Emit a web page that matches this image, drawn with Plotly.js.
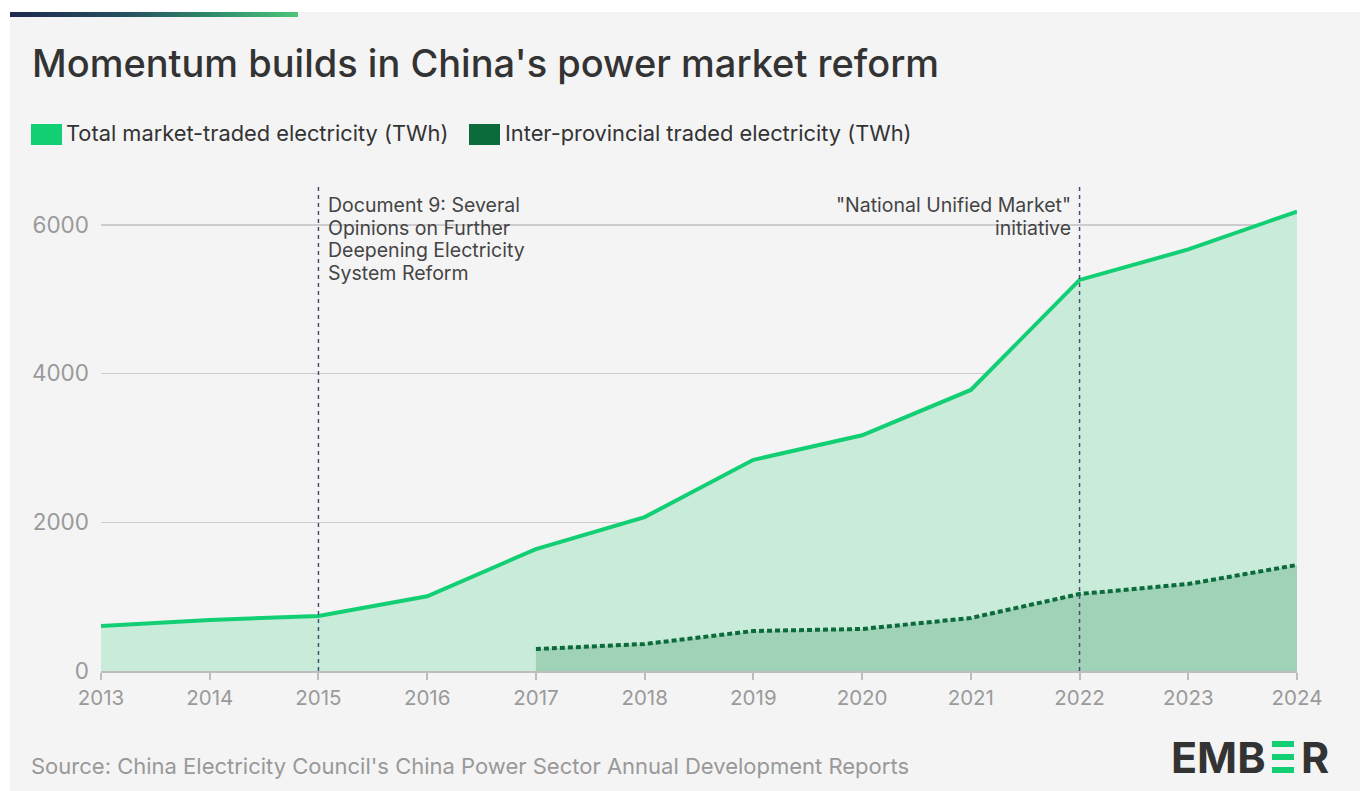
<!DOCTYPE html>
<html>
<head>
<meta charset="utf-8">
<script src="https://cdn.plot.ly/plotly-3.0.1.min.js"></script>
<style>
  html, body { margin:0; padding:0; background:#ffffff; width:1360px; height:791px; overflow:hidden; }
  #chart { position:absolute; left:10px; top:12px; width:1350px; height:779px; }
  #bar { position:absolute; left:10px; top:12px; width:288px; height:5px; z-index:5;
         background:linear-gradient(to right, #1d2a4f 0%, #26505f 40%, #2f8a6a 70%, #4cc47a 100%); }
</style>
</head>
<body>
<div id="chart"></div>
<div id="bar"></div>
<script>
// ---- Data ----
const years = [2013, 2014, 2015, 2016, 2017, 2018, 2019, 2020, 2021, 2022, 2023, 2024];
const totalTraded = [605, 686, 740, 1005, 1640, 2070, 2840, 3170, 3780, 5260, 5670, 6180];
const interYears = [2017, 2018, 2019, 2020, 2021, 2022, 2023, 2024];
const interProvincial = [296, 363, 538, 565, 713, 1036, 1170, 1426];
const seriesNames = ["Total market-traded electricity (TWh)", "Inter-provincial traded electricity (TWh)"];
const yTicks = [0, 2000, 4000, 6000];
const eventYears = [2015, 2022];
const eventLines = [
  ["Document 9: Several", "Opinions on Further", "Deepening Electricity", "System Reform"],
  ["\"National Unified Market\"", "initiative"]
];
const titleText = "Momentum builds in China's power market reform";
const sourceText = "Source: China Electricity Council's China Power Sector Annual Development Reports";

// ---- Layout helpers (page pixels -> paper coords) ----
const L = 101, R = 1297, T = 187, B = 671;
const px = x => (x - L) / (R - L);
const py = y => (B - y) / (B - T);

const FONT = "Inter, 'Noto Sans', sans-serif";
const TXT = "#333333";

const traces = [
  {
    x: years, y: totalTraded, name: seriesNames[0], type: "scatter", mode: "lines",
    fill: "tozeroy", fillcolor: "#c8ebda",
    line: { color: "#13cf74", width: 4 }, hoverinfo: "x+y"
  },
  {
    x: interYears, y: interProvincial, name: seriesNames[1], type: "scatter", mode: "lines",
    fill: "tozeroy", fillcolor: "#a0d2b8",
    line: { color: "#0b6b3b", width: 4, dash: "5px,3px" }, hoverinfo: "x+y"
  }
];

const shapes = [];
eventYears.forEach(yr => {
  shapes.push({ type: "line", xref: "x", yref: "paper", x0: yr, x1: yr, y0: 0, y1: 1,
    line: { color: "#4a5070", width: 1.5, dash: "4px,4px" }, layer: "above" });
});
// legend squares
shapes.push({ type: "rect", xref: "paper", yref: "paper", x0: px(31), x1: px(62), y0: py(145), y1: py(124),
  fillcolor: "#13cf74", line: { width: 0 } });
shapes.push({ type: "rect", xref: "paper", yref: "paper", x0: px(469), x1: px(500), y0: py(145), y1: py(124),
  fillcolor: "#0b6b3b", line: { width: 0 } });
// logo bars
[[741, 747], [754, 760], [767, 773]].forEach(b => {
  shapes.push({ type: "rect", xref: "paper", yref: "paper", x0: px(1272), x1: px(1294), y0: py(b[1]), y1: py(b[0]),
    fillcolor: "#13cf74", line: { width: 0 } });
});

const annotations = [
  { text: titleText, xref: "paper", yref: "paper", x: px(30), y: py(63), xanchor: "left", yanchor: "middle",
    showarrow: false, font: { family: FONT, size: 38, color: TXT, weight: 500 } },
  { text: seriesNames[0], xref: "paper", yref: "paper", x: px(64), y: py(133), xanchor: "left", yanchor: "middle",
    showarrow: false, font: { family: FONT, size: 21.8, color: TXT } },
  { text: seriesNames[1], xref: "paper", yref: "paper", x: px(503), y: py(133), xanchor: "left", yanchor: "middle",
    showarrow: false, font: { family: FONT, size: 21.8, color: TXT } },
  { text: sourceText, xref: "paper", yref: "paper", x: px(29), y: py(766), xanchor: "left", yanchor: "middle",
    showarrow: false, font: { family: FONT, size: 22, color: "#999999" } },
  { text: "<b>EMB</b>", xref: "paper", yref: "paper", x: px(1169), y: py(757), xanchor: "left", yanchor: "middle",
    showarrow: false, font: { family: FONT, size: 43, color: "#333333" } },
  { text: "<b>R</b>", xref: "paper", yref: "paper", x: px(1299), y: py(757), xanchor: "left", yanchor: "middle",
    showarrow: false, font: { family: FONT, size: 43, color: "#333333" } }
];
// event annotations, one line each
eventLines[0].forEach((t, i) => {
  annotations.push({ text: t, xref: "x", yref: "paper", x: eventYears[0], xshift: 8, y: py(205 + i * 22.7),
    xanchor: "left", yanchor: "middle", showarrow: false, font: { family: FONT, size: 19.5, color: "#444444" } });
});
eventLines[1].forEach((t, i) => {
  annotations.push({ text: t, xref: "x", yref: "paper", x: eventYears[1], xshift: -7, y: py(205 + i * 22.7),
    xanchor: "right", yanchor: "middle", showarrow: false, font: { family: FONT, size: 19.5, color: "#444444" } });
});

const layout = {
  width: 1350, height: 779,
  paper_bgcolor: "#f4f4f4", plot_bgcolor: "#f4f4f4",
  margin: { l: L - 10, r: 1360 - R, t: T - 12, b: 791 - B, pad: 0 },
  showlegend: false,
  font: { family: FONT, color: TXT },
  xaxis: {
    range: [2013, 2024], tickvals: years, ticktext: years.map(String),
    showgrid: false, zeroline: false, showline: true, linecolor: "#bdbdbd", linewidth: 2,
    ticks: "outside", ticklen: 7, tickwidth: 2, tickcolor: "#bdbdbd",
    tickfont: { family: FONT, size: 20.5, color: "#9a9a9a" }, fixedrange: true
  },
  yaxis: {
    range: [0, 6510], tickvals: yTicks, ticktext: yTicks.map(String),
    showgrid: true, gridcolor: "#cccccc", gridwidth: 1.5, zeroline: false, showline: false,
    ticks: "", ticklabelstandoff: 11,
    tickfont: { family: FONT, size: 22.5, color: "#9a9a9a" }, fixedrange: true
  },
  shapes: shapes,
  annotations: annotations
};

Plotly.newPlot("chart", traces, layout, { displayModeBar: false, staticPlot: true });
</script>
</body>
</html>
